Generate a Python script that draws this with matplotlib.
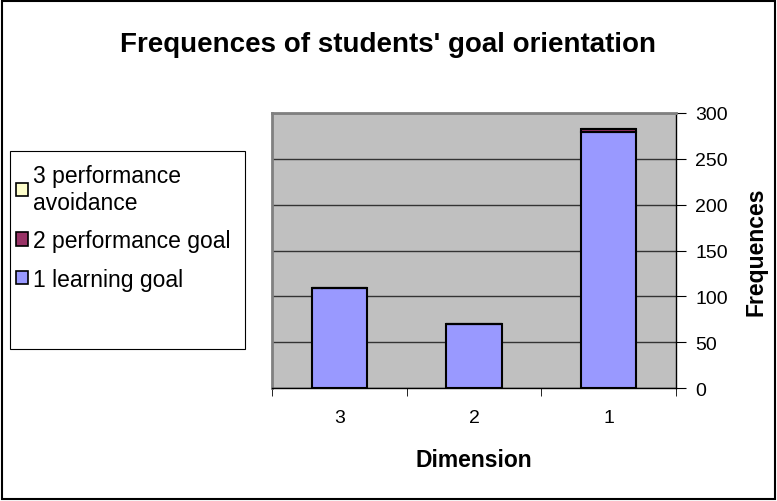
import matplotlib.pyplot as plt
import numpy as np
from matplotlib.patches import Rectangle

# Stacked counts per dimension
dimensions = ['3', '2', '1']
learning_goal = [109, 70, 279]
performance_goal = [0, 0, 3]
performance_avoidance = [0, 0, 0]

fig = plt.figure(figsize=(7.77, 5.02), dpi=100)
plt.rcParams['font.family'] = ['Liberation Sans', 'DejaVu Sans']

ax = fig.add_axes([0.350, 0.225, 0.520, 0.548])
ax.set_facecolor('#C0C0C0')

x = np.arange(len(dimensions))
w = 0.41
ax.bar(x, learning_goal, w, color='#9999FF', edgecolor='black', linewidth=1.5,
       label='1 learning goal', zorder=3)
ax.bar(x, performance_goal, w, bottom=learning_goal, color='#993366',
       edgecolor='black', linewidth=1.5, label='2 performance goal', zorder=3)
bottom2 = np.array(learning_goal) + np.array(performance_goal)
ax.bar(x, performance_avoidance, w, bottom=bottom2, color='#FFFFCC',
       edgecolor='black', linewidth=1.5, label='3 performance\navoidance', zorder=3)

ax.set_xlim(-0.5, 2.5)
ax.set_ylim(0, 300)
ax.set_yticks(range(0, 301, 50))
ax.set_xticks(x)
ax.set_xticklabels(dimensions, fontsize=14)
ax.set_xticks([-0.5, 0.5, 1.5, 2.5], minor=True)
ax.tick_params(axis='x', which='major', length=0, pad=15)
ax.tick_params(axis='x', which='minor', length=6, direction='out')
ax.yaxis.tick_right()
ax.yaxis.set_label_position('right')
ax.tick_params(axis='y', length=7, direction='out', pad=7)
for t in ax.get_yticklabels():
    t.set_fontsize(14)
ax.grid(axis='y', color='#333333', linewidth=1, zorder=0)
for s in ['top', 'left']:
    ax.spines[s].set_color('#808080')
    ax.spines[s].set_linewidth(2)
for s in ['bottom', 'right']:
    ax.spines[s].set_color('black')
    ax.spines[s].set_linewidth(1)

ax.set_ylabel('Frequences', fontsize=16.5, fontweight='bold', labelpad=12)
ax.set_xlabel('Dimension', fontsize=16.5, fontweight='bold', labelpad=16)

fig.text(0.5, 0.91, "Frequences of students' goal orientation",
         ha='center', va='center', fontsize=20, fontweight='bold')

# legend box (drawn separately, Excel-style with empty space below)
fig.patches.append(Rectangle((0.0129, 0.303), 0.302, 0.394, transform=fig.transFigure,
                             fill=False, edgecolor='black', linewidth=0.8))
handles, labels = ax.get_legend_handles_labels()
leg = fig.legend(handles[::-1], labels[::-1], loc='upper left',
                 bbox_to_anchor=(-0.003, 0.708), fontsize=16.5, frameon=False,
                 handlelength=0.52, handleheight=0.52, handletextpad=0.2,
                 labelspacing=0.68, borderpad=0.3)
for h in leg.legend_handles:
    h.set_linewidth(1.2)

# outer chart border
fig.patches.append(Rectangle((0.002, 0.003), 0.996, 0.994, transform=fig.transFigure,
                             fill=False, edgecolor='black', linewidth=1.5))

fig.savefig('out.png', dpi=100)
plt.close(fig)
